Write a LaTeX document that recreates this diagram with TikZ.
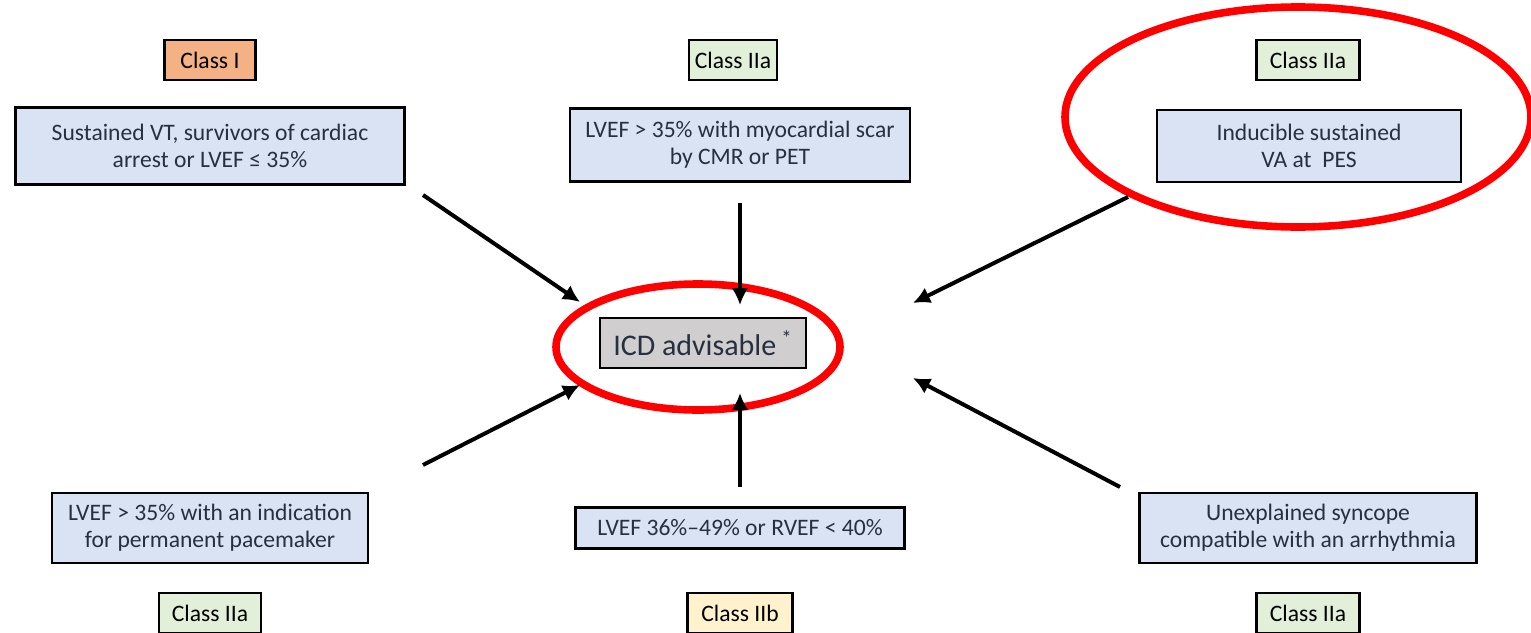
\documentclass[tikz,border=0pt]{standalone}
\usepackage{fontspec}
\setmainfont{Carlito}
\usetikzlibrary{arrows.meta}

\definecolor{classone}{HTML}{F4B183}
\definecolor{classtwoa}{HTML}{E2F0D9}
\definecolor{classtwob}{HTML}{FFF2CC}
\definecolor{critfill}{HTML}{DAE3F3}
\definecolor{icdfill}{HTML}{D0CECE}
\definecolor{txt}{HTML}{27303F}
\definecolor{ringred}{HTML}{FF0000}

\tikzset{
  classbox/.style={draw=black, line width=1.2pt, minimum height=20pt, inner sep=0pt, font=\fontsize{11.8}{13}\selectfont, text=black},
  critbox/.style={draw=black, line width=1.2pt, fill=critfill, inner sep=0pt, align=center, font=\fontsize{11.8}{13.6}\selectfont, text=txt},
  ring/.style={draw=ringred, line width=3.8pt},
}

\begin{document}
\begin{tikzpicture}[x=0.5pt, y=-0.5pt, >={Latex[length=8.5pt,width=8.5pt]}]
            \clip (0,0) rectangle (1531,632);

            % ring round the outcome
            \draw[ring] (698,347) ellipse [x radius=142, y radius=63];
            \draw[ring] (1298,117) ellipse [x radius=233, y radius=110];

            \node[classbox, fill=classone, minimum width=45.5pt] (c1) at (210,60) {Class I};
            \node[classbox, fill=classtwoa, minimum width=44pt] (c2) at (733,60) {Class IIa};
            \node[classbox, fill=classtwoa, minimum width=51.5pt] (c3) at (1308,60) {Class IIa};
            \node[classbox, fill=classtwoa, minimum width=51pt] (c4) at (210,613) {Class IIa};
            \node[classbox, fill=classtwob, minimum width=52.5pt] (c5) at (740,613) {Class IIb};
            \node[classbox, fill=classtwoa, minimum width=51.5pt] (c6) at (1308,613) {Class IIa};

            \node[critbox, minimum width=194.5pt, minimum height=38.5pt] (vt) at (210,146) {Sustained VT, survivors of cardiac\\arrest or LVEF ≤ 35\%};
            \node[critbox, minimum width=170pt, minimum height=36.5pt] (scar) at (740,145) {LVEF > 35\% with myocardial scar\\by CMR or PET};
            \node[critbox, minimum width=152pt, minimum height=36pt] (pes) at (1309,146) {Inducible sustained\\VA at\ \ PES};
            \node[critbox, minimum width=158pt, minimum height=35pt] (pace) at (210,528) {LVEF > 35\% with an indication\\for permanent pacemaker};
            \node[critbox, minimum width=164.5pt, minimum height=20.5pt] (ef) at (740,528) {LVEF 36\%–49\% or RVEF < 40\%};
            \node[critbox, minimum width=168.5pt, minimum height=35pt] (sync) at (1308,528) {Unexplained syncope\\compatible with an arrhythmia};

            \node[draw=black, line width=1.2pt, fill=icdfill, inner sep=0pt, minimum width=103pt, minimum height=25pt, font=\fontsize{15}{17}\selectfont, text=txt] (icd) at (703,343) {ICD advisable\,\textsuperscript{*}};

            \coordinate (vt-s) at (423,195);
            \coordinate (vt-e) at (580,302);
            \coordinate (scar-s) at (740,203);
            \coordinate (scar-e) at (740,305);
            \coordinate (pes-s) at (1128,197);
            \coordinate (pes-e) at (913,303);
            \coordinate (pace-s) at (423,465);
            \coordinate (pace-e) at (580,385);
            \coordinate (ef-s) at (740,487);
            \coordinate (ef-e) at (740,393);
            \coordinate (sync-s) at (1120,487);
            \coordinate (sync-e) at (913,378);

            \draw[->, line width=2pt] (vt-s) to (vt-e);
            \draw[->, line width=2pt] (scar-s) to (scar-e);
            \draw[->, line width=2pt] (pes-s) to (pes-e);
            \draw[->, line width=2pt] (pace-s) to (pace-e);
            \draw[->, line width=2pt] (ef-s) to (ef-e);
            \draw[->, line width=2pt] (sync-s) to (sync-e);
        \end{tikzpicture}
\end{document}
